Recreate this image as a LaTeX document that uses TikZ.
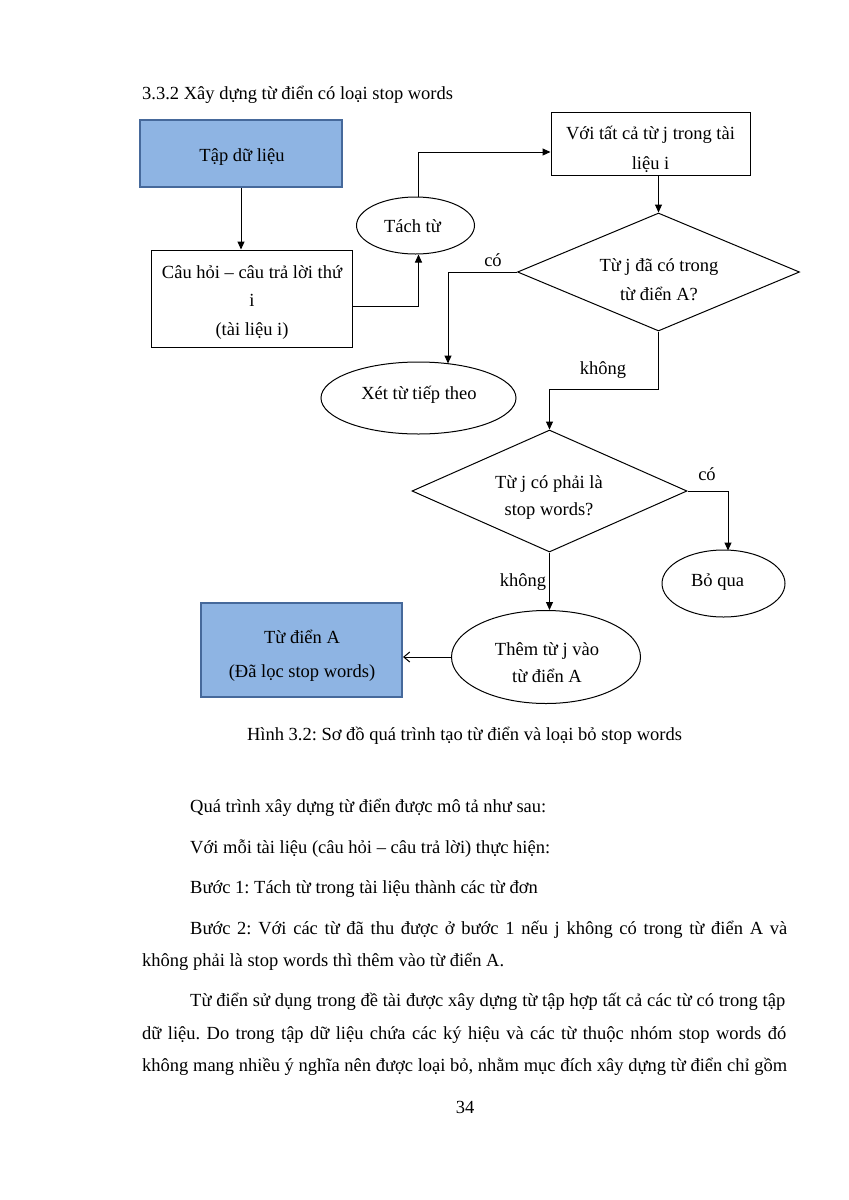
\documentclass[tikz,border=0pt]{standalone}
\usepackage{fontspec}
\setmainfont{Liberation Serif}
\usetikzlibrary{arrows.meta,shapes.geometric}
\frenchspacing
\definecolor{boxfill}{RGB}{142,180,227}
\definecolor{boxline}{RGB}{70,105,155}
\newcommand\diagfont{\fontsize{18.5}{28.5}\selectfont}
\newcommand\bodyfont{\fontsize{18.5}{22}\selectfont}
\tikzset{
  ln/.style={line width=1pt},
  arr/.style={ln,-{Triangle[length=8pt,width=7pt]}},
  openarr/.style={ln,-{Straight Barb[length=6pt,width=10pt,line width=1pt]}},
  shapebase/.style={inner sep=0pt},
  bluebox/.style={shapebase, rectangle, draw=boxline, line width=2pt, fill=boxfill},
  plainbox/.style={shapebase, rectangle, draw, ln},
  oval/.style={shapebase, ellipse, draw, ln},
  decision/.style={shapebase, diamond, draw, ln},
  dtext/.style={font=\diagfont, align=center, inner sep=0pt},
  lbl/.style={font=\diagfont, inner sep=0pt},
  body/.style={font=\bodyfont, inner sep=0pt, anchor=base west},
}
\begin{document}
\begin{tikzpicture}[x=1pt,y=-1pt]
\useasboundingbox[fill=white] (0,0) rectangle (849,1200);
% heading
\node[body] (head) at (142,99) {3.3.2 Xây dựng từ điển có loại stop words};
% diagram shapes
\node[bluebox, minimum width=202, minimum height=67] (data) at (241,153.5) {};
\node[plainbox, minimum width=201, minimum height=97] (cau) at (251.5,298.5) {};
\node[oval, minimum width=118, minimum height=57] (tach) at (415.5,225.5) {};
\node[plainbox, minimum width=199, minimum height=63] (vt) at (650.5,143.5) {};
\node[decision, minimum width=282, minimum height=118] (d1) at (658.5,272) {};
\node[oval, minimum width=195, minimum height=72] (xet) at (418.5,398) {};
\node[decision, minimum width=275, minimum height=122] (d2) at (549.5,491) {};
\node[oval, minimum width=123, minimum height=67] (bo) at (723.5,583.5) {};
\node[oval, minimum width=189, minimum height=93] (them) at (546,657) {};
\node[bluebox, minimum width=201, minimum height=94] (tda) at (301.5,650) {};
% texts of the shapes
\node[dtext] (datat) at (242,157.5) {Tập dữ liệu};
\node[dtext] (caut) at (252,302.5) {Câu hỏi -- câu trả lời thứ\\ i\\ (tài liệu i)};
\node[dtext] (tacht) at (412.5,226.5) {Tách từ};
\node[dtext] (vtt) at (650.5,149) {Với tất cả từ j trong tài\\[1.5pt] liệu i};
\node[dtext] (d1t) at (659,279.5) {Từ j đã có trong\\ từ điển A?};
\node[dtext] (xett) at (419,394.5) {Xét từ tiếp theo};
\node[dtext] (d2t) at (549,497.5) {Từ j có phải là\\[-1.5pt] stop words?};
\node[dtext] (bot) at (717.5,582.5) {Bỏ qua};
\node[dtext] (themt) at (547,662.5) {Thêm từ j vào\\[-1.5pt] từ điển A};
\node[dtext] (tdat) at (302,656) {Từ điển A\\[5pt] (Đã lọc stop words)};
\coordinate (xtop) at (448,363.5);
\coordinate (botop) at (728,550.5);
% connectors
\draw[arr] (data.south) -- (data.south |- cau.north);
\draw[arr] ([yshift=-7.5pt]cau.east) -| ([xshift=3pt]tach.south);
\draw[arr] ([xshift=3pt]tach.north) |- ([yshift=-8.5pt]vt.west);
\draw[arr] (d1.north |- vt.south) -- (d1.north);
\draw[arr] (d1.west) -| (xtop);
\draw[arr] (d1.south) -- ++(0,58) -| (d2.north);
\draw[arr] (d2.east) -| (botop);
\draw[arr] (d2.south) -- (d2.south |- them.north);
\draw[openarr] (them.west) -- (them.west -| tda.east);
% labels
\node[lbl] (l1) at (493,260) {có};
\node[lbl] (l2) at (603,370) {không};
\node[lbl] (l3) at (707,474) {có};
\node[lbl] (l4) at (523,582) {không};
% caption and body
\node[font=\bodyfont, inner sep=0pt] (cap) at (464.5,736) {Hình 3.2: Sơ đồ quá trình tạo từ điển và loại bỏ stop words};
\node[body] (p1) at (190,812) {Quá trình xây dựng từ điển được mô tả như sau:};
\node[body] (p2) at (190,853) {Với mỗi tài liệu (câu hỏi -- câu trả lời) thực hiện:};
\node[body] (p3) at (190,893) {Bước 1: Tách từ trong tài liệu thành các từ đơn};
\node[body] (p4) at (190,934) {\makebox[597pt][s]{Bước 2: Với các từ đã thu được ở bước 1 nếu j không có trong từ điển A và}};
\node[body] (p5) at (142,966) {không phải là stop words thì thêm vào từ điển A.};
\node[body] (p6) at (190,1006) {\makebox[595pt][s]{Từ điển sử dụng trong đề tài được xây dựng từ tập hợp tất cả các từ có trong tập}};
\node[body] (p7) at (142,1039) {\makebox[644pt][s]{dữ liệu. Do trong tập dữ liệu chứa các ký hiệu và các từ thuộc nhóm stop words đó}};
\node[body] (p8) at (142,1071) {\makebox[645pt][s]{không mang nhiều ý nghĩa nên được loại bỏ, nhằm mục đích xây dựng từ điển chỉ gồm}};
\node[font=\bodyfont, inner sep=0pt] (pg) at (465,1107) {34};
\end{tikzpicture}
\end{document}
